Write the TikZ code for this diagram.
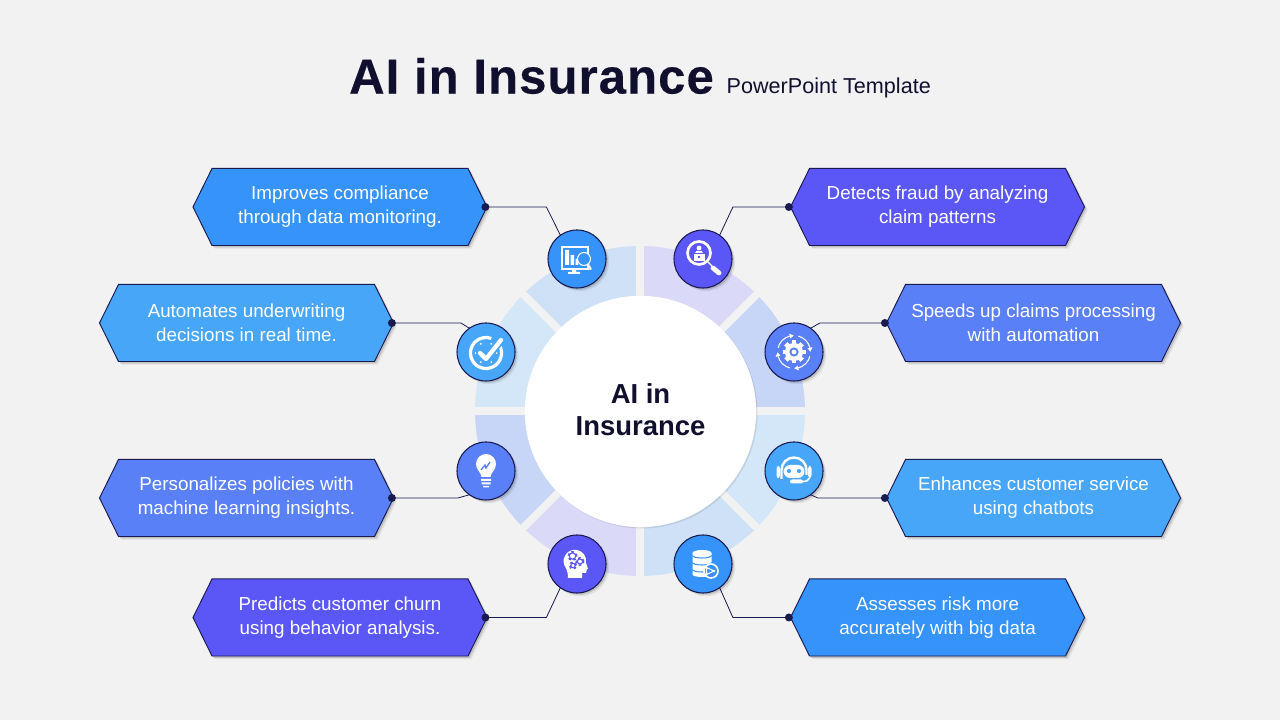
\documentclass[tikz,border=0pt]{standalone}
\usepackage{fontspec}
\setmainfont{Liberation Sans}
\newfontfamily\titlefont[LetterSpace=2.2,FakeBold=.35]{Liberation Sans}
\usetikzlibrary{shapes.symbols,shadows}
\definecolor{pagebg}{HTML}{F2F2F3}
\definecolor{ink}{HTML}{10102E}
\definecolor{navy}{HTML}{1A1A50}
\definecolor{cBlue}{HTML}{3593F9}
\definecolor{cSky}{HTML}{48A6F9}
\definecolor{cPeri}{HTML}{5A80F7}
\definecolor{cViolet}{HTML}{5B57F7}
\definecolor{rBlue}{HTML}{CFE1F6}
\definecolor{rSky}{HTML}{D4E7F8}
\definecolor{rPeri}{HTML}{C7D5F6}
\definecolor{rViolet}{HTML}{DAD9F7}
\tikzstyle{softshadow} = [drop shadow={shadow xshift=2.4pt,shadow yshift=-2.4pt,fill=black,opacity=.07},
  drop shadow={shadow xshift=1.3pt,shadow yshift=-1.3pt,fill=black,opacity=.14}]
\tikzstyle{hexbox} = [signal, signal to=east and west, signal pointer angle=127.5,
  minimum width=220.5pt, minimum height=57.8pt, inner sep=0pt, outer sep=0pt, draw=navy, line width=.7pt,
  text=white, align=center, font=\fontsize{14.1}{18}\selectfont, softshadow]
\tikzstyle{iconball} = [circle, draw=navy, line width=.8pt, minimum size=43.5pt, inner sep=0pt, outer sep=0pt, softshadow]
\tikzstyle{dotnode} = [circle, fill=navy, minimum size=6pt, inner sep=0pt, xshift=-1.2pt]
\tikzstyle{lead} = [draw=navy, line width=.6pt]
\begin{document}
\begin{tikzpicture}[x=.75pt,y=.75pt]
  \useasboundingbox (0,0) rectangle (1280,720);
  \fill[pagebg] (0,0) rectangle (1280,720);

  \node (title) at (531.5,644) {\fontsize{36.8}{44}\titlefont\bfseries\color{ink}AI in Insurance};
  \node (subtitle) [anchor=west] at (722,632.5) {\fontsize{16.2}{20}\selectfont\color{ink}PowerPoint Template};

  % ring
  \begin{scope}[shift={(640,309)}]
    \foreach \a/\c in {0/rPeri,45/rViolet,90/rBlue,135/rSky,180/rPeri,225/rViolet,270/rBlue,315/rSky}
      \fill[\c] (\a:165) arc[start angle=\a,end angle=\a+45,radius=165]
        -- (\a+45:110) arc[start angle=\a+45,end angle=\a,radius=110] -- cycle;
    \foreach \a in {0,45,...,315}
      \draw[pagebg,line width=5.6pt] (0,0) -- (\a:172);
  \end{scope}
  \node[circle, fill=white, minimum size=173.5pt, inner sep=0pt, align=center,
    drop shadow={shadow xshift=1pt,shadow yshift=-1pt,fill=black,opacity=.09},
    font=\fontsize{20.6}{24}\selectfont\bfseries, text=ink] (hub) at (640.5,308.5) {AI in\\Insurance\rule[-3pt]{0pt}{1pt}};

  % boxes
  \node[hexbox, fill=cBlue] (hCompl) at (340,513) {Improves compliance\\through data monitoring.};
  \node[hexbox, fill=cSky] (hUnder) at (246.5,397) {Automates underwriting\\decisions in real time.};
  \node[hexbox, fill=cPeri] (hPers) at (246.5,222) {Personalizes policies with\\machine learning insights.};
  \node[hexbox, fill=cViolet] (hChurn) at (340,102.5) {Predicts customer churn\\using behavior analysis.};
  \node[hexbox, fill=cViolet] (hFraud) at (937.5,513) {Detects fraud by analyzing\\claim patterns};
  \node[hexbox, fill=cPeri] (hClaims) at (1033.5,397) {Speeds up claims processing\\with automation};
  \node[hexbox, fill=cSky] (hChat) at (1033.5,222) {Enhances customer service\\using chatbots};
  \node[hexbox, fill=cBlue] (hRisk) at (937.5,102.5) {Assesses risk more\\accurately with big data};

  % icon balls
  \node[iconball, fill=cBlue] (iCompl) at (577,461) {};
  \node[iconball, fill=cSky] (iUnder) at (486,368) {};
  \node[iconball, fill=cPeri] (iPers) at (486,249) {};
  \node[iconball, fill=cViolet] (iChurn) at (577,156) {};
  \node[iconball, fill=cViolet] (iFraud) at (703,461) {};
  \node[iconball, fill=cPeri] (iClaims) at (794,368) {};
  \node[iconball, fill=cSky] (iChat) at (794,249) {};
  \node[iconball, fill=cBlue] (iRisk) at (703,156) {};

  % dots and leaders
  \node[dotnode] (dCompl) at (hCompl.east) {};
  \node[dotnode] (dUnder) at (hUnder.east) {};
  \node[dotnode] (dPers) at (hPers.east) {};
  \node[dotnode] (dChurn) at (hChurn.east) {};
  \node[dotnode] (dFraud) at (hFraud.west) {};
  \node[dotnode] (dClaims) at (hClaims.west) {};
  \node[dotnode] (dChat) at (hChat.west) {};
  \node[dotnode] (dRisk) at (hRisk.west) {};
  \draw[lead] (dCompl.center) -- ++(61,0) -- (iCompl.125);
  \draw[lead] (dUnder.center) -- ++(69,0) -- (iUnder.125);
  \draw[lead] (dPers.center) -- ++(66,0) -- (iPers.-125);
  \draw[lead] (dChurn.center) -- ++(61,0) -- (iChurn.-125);
  \draw[lead] (dFraud.center) -- ++(-56,0) -- (iFraud.55);
  \draw[lead] (dClaims.center) -- ++(-65,0) -- (iClaims.55);
  \draw[lead] (dChat.center) -- ++(-67,0) -- (iChat.-55);
  \draw[lead] (dRisk.center) -- ++(-56,0) -- (iRisk.-55);

  % monitor
  \begin{scope}[shift={(iCompl.center)}]
    \draw[white,line width=1pt] (-15,12) rectangle (11,-10);
    \fill[white] (-12,-6) rectangle (-8,9) (-6.5,-6) rectangle (-3,4) (-1.5,-6) rectangle (1,0);
    \fill[white] (-5,-10) rectangle (-1,-13) (-9,-13) rectangle (3,-15);
    \draw[white,line width=.8pt,fill=cBlue] (7,0) circle[radius=6.5];
    \draw[white,line width=2pt,line cap=round] (11,-6) -- (13.5,-10);
  \end{scope}
  % clock
  \begin{scope}[shift={(iUnder.center)}]
    \draw[white,line width=2.4pt] (0,-1) ++(40:15.5) arc[start angle=40,end angle=-290,radius=15.5];
    \foreach \a in {0,60,...,300}
      \fill[white] (0,-1) ++(\a:10.5) circle[radius=1];
    \draw[cSky,line width=6pt,line cap=round,line join=round] (-6,-1) -- (0,-7) -- (15,12);
    \draw[white,line width=3.2pt,line cap=round,line join=round] (-6,-1) -- (0,-7) -- (15,12);
  \end{scope}
  % bulb
  \begin{scope}[shift={(iPers.center)}]
    \fill[white] (-4.5,-6) .. controls (-5,-1) and (-10,1) .. (-10,7) arc[start angle=180,end angle=0,radius=10]
      .. controls (10,1) and (5,-1) .. (4.5,-6) -- cycle;
    \fill[white] (-5,-8) rectangle (5,-10) (-4.5,-11.5) rectangle (4.5,-13.5) (-3,-15) rectangle (3,-16.5);
    \draw[cPeri,line width=1pt] (-5,1) -- (-1,6) -- (0,3) -- (4,9);
  \end{scope}
  % head with gears
  \begin{scope}[shift={(iChurn.center)}]
    \fill[white] (-9,-14) -- (5,-14) -- (5,-9) -- (9,-9) -- (10,-5) -- (11,-5) -- (9,1)
      arc[start angle=-10,end angle=200,radius=11.3] .. controls (-12,-3) and (-9,-6) .. (-9,-14) -- cycle;
    \foreach \x/\y/\r in {-4.5/8/3.2,3/2.5/2.6,-4/-1.5/2.2}{
      \draw[cViolet,line width=1.6pt,dash pattern=on 1.8pt off 1.8pt] (\x,\y) circle[radius=\r+.8];
      \draw[cViolet,line width=.8pt] (\x,\y) circle[radius=\r];
    }
  \end{scope}
  % magnifier
  \begin{scope}[shift={(iFraud.center)}]
    \draw[white,line width=2pt] (-4,6) circle[radius=11.5];
    \draw[white,line width=3.6pt,line cap=round] (10,-9) -- (16,-14);
    \draw[white,line width=1pt] (5,-3) -- (9,-7);
    \fill[white] (-4,11) circle[radius=2.4];
    \fill[white] (-8,6) -- (-6.5,8) -- (-1.5,8) -- (0,6) -- cycle;
    \fill[white] (-9.5,5) rectangle (1.5,-2);
    \fill[cViolet] (-5,3) rectangle (-3,1);
  \end{scope}
  % gear with arrows
  \begin{scope}[shift={(iClaims.center)}]
    \foreach \a in {0,45,...,315}
      \draw[white,line width=3.6pt] (\a:6) -- (\a:11.5);
    \fill[white] (0,0) circle[radius=9];
    \fill[cPeri] (0,0) circle[radius=4.6];
    \fill[white] (0,0) circle[radius=2.4];
    \foreach \a in {15,105,195,285}{
      \draw[white,line width=.8pt] (\a:16.5) arc[start angle=\a,end angle=\a+60,radius=16.5];
      \fill[white] (\a:19) -- (\a:14) -- (\a-14:16.5) -- cycle;
    }
  \end{scope}
  % chatbot
  \begin{scope}[shift={(iChat.center)}]
    \draw[white,line width=1.8pt] (-12.5,-8) -- (-12.5,1) arc[start angle=180,end angle=0,radius=12.5] -- (12.5,-4);
    \fill[white,rounded corners=5pt] (-10.5,-7) rectangle (10.5,6);
    \fill[cSky] (-5,0) circle[radius=2.1] (5,0) circle[radius=2.1];
    \fill[white,rounded corners=2pt] (-17.5,-7) rectangle (-14,5) (14,-7) rectangle (17.5,5);
    \draw[white,line width=1.2pt] (15.5,-7) .. controls (14.5,-10) and (12,-10.5) .. (8,-10.5);
    \fill[white,rounded corners=1.5pt] (-4,-12.5) rectangle (9,-8.5);
  \end{scope}
  % database
  \begin{scope}[shift={(iRisk.center)}]
    \fill[white] (-10.5,11) -- (-10.5,-10.5) arc[start angle=180,end angle=360,x radius=9.5,y radius=2.5]
      -- (8.5,11) -- cycle;
    \fill[white] (-1,11) ellipse[x radius=9.5,y radius=3];
    \foreach \y in {8.5,1.5,-5.5}
      \draw[cBlue,line width=.8pt] (-10.5,\y) arc[start angle=180,end angle=360,x radius=9.5,y radius=2.5];
    \draw[white,line width=1.2pt,fill=cBlue] (8,-7) circle[radius=7];
    \draw[white,line width=.8pt] (3.5,-3.5) -- (11,-7) -- (3.5,-10.5) -- cycle;
    \fill[white] (11,-7) circle[radius=1.4] (3.5,-3.5) circle[radius=1.2] (3.5,-10.5) circle[radius=1.2];
  \end{scope}
\end{tikzpicture}
\end{document}
